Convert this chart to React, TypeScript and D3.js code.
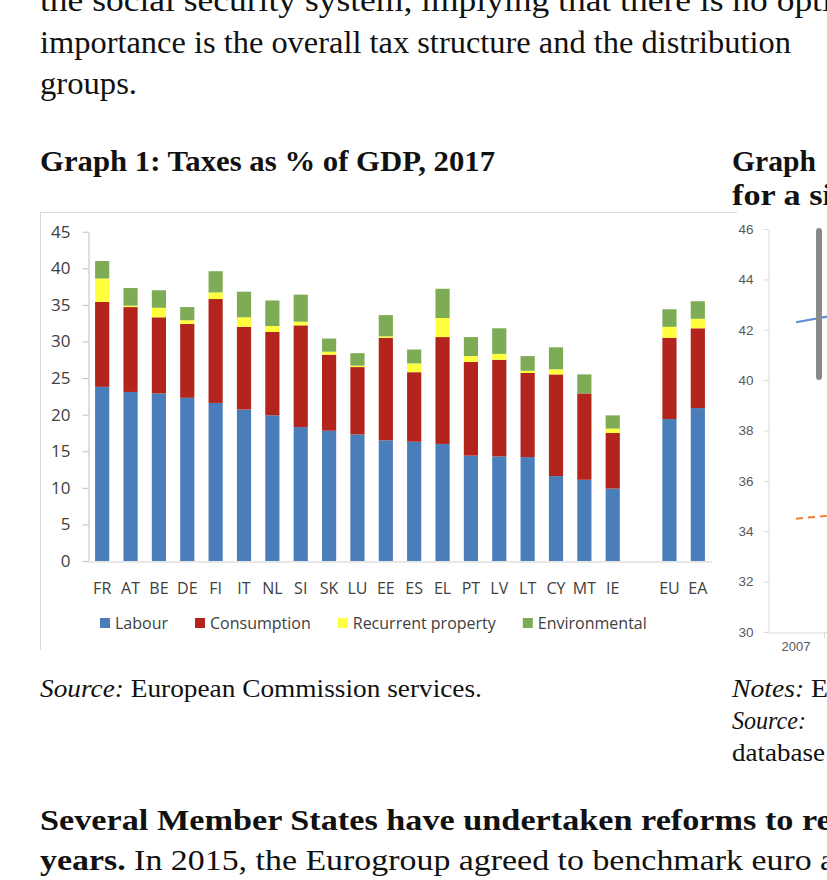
import React, { useRef, useEffect } from "react";
import * as d3 from "d3";

// Graph 1: taxes as % of GDP, 2017 (stacked)
const countries = ["FR", "AT", "BE", "DE", "FI", "IT", "NL", "SI", "SK", "LU", "EE", "ES", "EL", "PT", "LV", "LT", "CY", "MT", "IE", "EU", "EA"];
const labour = [23.8, 23.1, 22.9, 22.3, 21.6, 20.7, 19.9, 18.3, 17.8, 17.3, 16.5, 16.3, 16.0, 14.4, 14.3, 14.2, 11.6, 11.1, 9.9, 19.4, 20.9];
const consumption = [11.6, 11.6, 10.4, 10.1, 14.2, 11.3, 11.4, 13.9, 10.4, 9.2, 14.0, 9.5, 14.6, 12.8, 13.2, 11.5, 13.9, 11.8, 7.6, 11.1, 10.9];
const property = [3.2, 0.2, 1.3, 0.5, 0.9, 1.3, 0.8, 0.5, 0.4, 0.2, 0.2, 1.2, 2.6, 0.8, 0.8, 0.3, 0.7, 0.0, 0.6, 1.5, 1.3];
const environmental = [2.4, 2.4, 2.4, 1.8, 2.9, 3.5, 3.5, 3.7, 1.8, 1.7, 2.9, 1.9, 4.0, 2.6, 3.5, 2.0, 3.0, 2.6, 1.8, 2.4, 2.4];
const seriesNames = ["Labour", "Consumption", "Recurrent property", "Environmental"];
const seriesColors = ["#4A7EBB", "#B2241C", "#FFFF3D", "#7EAB55"];
const yTicks = [0, 5, 10, 15, 20, 25, 30, 35, 40, 45];

// Graph 2 (only its left edge is visible)
const g2Years = ["2007", "2008"];
const g2Blue = [42.3, 42.7];
const g2Orange = [34.5, 34.7];
const g2Ticks = [30, 32, 34, 36, 38, 40, 42, 44, 46];

type Part = { t: string; b?: boolean; i?: boolean };
type Line = { x: number; y: number; w: number; size: number; parts: Part[] };

const pageLines: Line[] = [
  { x: 40, y: 11, w: 792, size: 31, parts: [{ t: "the social security system, implying that there is no opti" }] },
  { x: 40, y: 53, w: 751, size: 31, parts: [{ t: "importance is the overall tax structure and the distribution" }] },
  { x: 40, y: 94, w: 97, size: 31, parts: [{ t: "groups." }] },
  { x: 40, y: 171, w: 455, size: 30, parts: [{ t: "Graph 1: Taxes as % of GDP, 2017", b: true }] },
  { x: 732, y: 171, w: 84, size: 30, parts: [{ t: "Graph", b: true }] },
  { x: 732, y: 205, w: 100, size: 30, parts: [{ t: "for a si", b: true }] },
  { x: 40, y: 697, w: 442, size: 26, parts: [{ t: "Source:", i: true }, { t: " European Commission services." }] },
  { x: 732, y: 697, w: 96, size: 26, parts: [{ t: "Notes:", i: true }, { t: " E" }] },
  { x: 732, y: 729, w: 74, size: 26, parts: [{ t: "Source:", i: true }] },
  { x: 732, y: 761, w: 93, size: 26, parts: [{ t: "database" }] },
  { x: 40, y: 830, w: 792, size: 30, parts: [{ t: "Several Member States have undertaken reforms to re", b: true }] },
  { x: 40, y: 870, w: 795, size: 30, parts: [{ t: "years.", b: true }, { t: " In 2015, the Eurogroup agreed to benchmark euro a" }] },
];

export default function App() {
  const ref = useRef<SVGSVGElement>(null);

  useEffect(() => {
    if (!ref.current) return;
    document.body.style.margin = "0";
    document.body.style.overflow = "hidden";
    const svg = d3.select(ref.current);
    svg.selectAll("*").remove();

    // page text, stretched to the widths seen in the scan
    const texts = pageLines.map(l => {
      const t = svg.append("text")
        .attr("font-family", "'Liberation Serif', 'Times New Roman', serif")
        .attr("font-size", l.size)
        .attr("fill", "#111");
      l.parts.forEach(p => {
        t.append("tspan")
          .attr("font-weight", p.b ? "bold" : "normal")
          .attr("font-style", p.i ? "italic" : "normal")
          .text(p.t);
      });
      return { t, l };
    });
    const fit = () => {
      texts.forEach(({ t, l }) => {
        const w = (t.node() as SVGTextElement).getComputedTextLength() || l.w;
        t.attr("transform", `translate(${l.x},${l.y}) scale(${l.w / w},1)`);
      });
    };
    fit();
    (document as any).fonts?.ready.then(fit);

    // ---- Graph 1 ----
    const sans = "'Open Sans', 'Noto Sans', sans-serif";
    const frame = svg.append("g").attr("stroke", "#d9d9d9").attr("stroke-width", 1);
    frame.append("line").attr("x1", 40).attr("x2", 737).attr("y1", 212.5).attr("y2", 212.5);
    frame.append("line").attr("x1", 40.5).attr("x2", 40.5).attr("y1", 212).attr("y2", 650);

    const domain = [...countries.slice(0, 19), "gap", ...countries.slice(19)];
    const x = d3.scaleBand<string>().domain(domain).range([88, 712]).paddingInner(0.5).paddingOuter(0.25);
    const y = d3.scaleLinear().domain([0, 45]).range([561, 231.7]);

    const rows = countries.map((c, i) => ({
      c,
      Labour: labour[i],
      Consumption: consumption[i],
      "Recurrent property": property[i],
      Environmental: environmental[i],
    }));
    const stacked = d3.stack<any>().keys(seriesNames)(rows);

    svg.append("g")
      .selectAll("g")
      .data(stacked)
      .join("g")
      .attr("fill", (_, i) => seriesColors[i])
      .selectAll("rect")
      .data(d => d)
      .join("rect")
      .attr("x", d => x(d.data.c)!)
      .attr("width", x.bandwidth())
      .attr("y", d => y(d[1]))
      .attr("height", d => Math.max(0, y(d[0]) - y(d[1])));

    const yAxis = svg.append("g")
      .attr("transform", "translate(88.5,0)")
      .call(d3.axisLeft(y).tickValues(yTicks).tickSize(6).tickSizeOuter(0).tickPadding(12));
    yAxis.select(".domain").attr("stroke", "#bfbfbf");
    yAxis.selectAll(".tick line").attr("stroke", "#bfbfbf");
    yAxis.selectAll(".tick text").attr("fill", "#404040").attr("font-size", 17).attr("font-family", sans);

    const xAxis = svg.append("g")
      .attr("transform", "translate(0,561.5)")
      .call(d3.axisBottom(x).tickSize(0).tickSizeOuter(0).tickPadding(21).tickFormat(d => (d === "gap" ? "" : d)));
    xAxis.select(".domain").attr("stroke", "#d0d0d0");
    xAxis.selectAll(".tick text").attr("fill", "#404040").attr("font-size", 16).attr("font-family", sans);

    // legend
    const legend = svg.append("g").attr("font-family", sans).attr("font-size", 16).attr("fill", "#404040");
    let lx = 100;
    seriesNames.forEach((name, i) => {
      legend.append("rect").attr("x", lx).attr("y", 618).attr("width", 10).attr("height", 10).attr("fill", seriesColors[i]);
      const t = legend.append("text").attr("x", lx + 15).attr("y", 629).text(name);
      const w = (t.node() as SVGTextElement).getComputedTextLength();
      lx = lx + 15 + w + 27;
    });

    // ---- Graph 2 (cut off at the right edge) ----
    const arial = "'Liberation Sans', Arial, sans-serif";
    const y2 = d3.scaleLinear().domain([30, 46]).range([632, 229]);
    const x2 = d3.scaleBand<string>().domain(g2Years).range([768, 880]);

    const y2Axis = svg.append("g")
      .attr("transform", "translate(768.5,0)")
      .call(d3.axisLeft(y2).tickValues(g2Ticks).tickSize(5).tickSizeOuter(0).tickPadding(10));
    y2Axis.select(".domain").attr("stroke", "#d9d9d9");
    y2Axis.selectAll(".tick line").attr("stroke", "#d9d9d9");
    y2Axis.selectAll(".tick text").attr("fill", "#595959").attr("font-size", 13.5).attr("font-family", arial);

    const x2Axis = svg.append("g")
      .attr("transform", "translate(0,632.5)")
      .call(d3.axisBottom(x2).tickSize(0).tickSizeOuter(0).tickPadding(9));
    x2Axis.select(".domain").attr("stroke", "#d9d9d9");
    x2Axis.selectAll(".tick text").attr("fill", "#595959").attr("font-size", 13).attr("font-family", arial);
    svg.append("g")
      .selectAll("line")
      .data(g2Years)
      .join("line")
      .attr("x1", d => x2(d)! + x2.bandwidth() + 0.5)
      .attr("x2", d => x2(d)! + x2.bandwidth() + 0.5)
      .attr("y1", 632)
      .attr("y2", 638)
      .attr("stroke", "#d9d9d9");

    const line2 = d3.line<number>()
      .x((_, i) => x2(g2Years[i])! + x2.bandwidth() / 2)
      .y(v => y2(v));
    svg.append("path").datum(g2Blue).attr("fill", "none").attr("stroke", "#5B8FD0").attr("stroke-width", 2).attr("d", line2);
    svg.append("path").datum(g2Orange).attr("fill", "none").attr("stroke", "#ED7D31").attr("stroke-width", 2)
      .attr("stroke-dasharray", "7,5").attr("d", line2);

    // grey scroll indicator over the right graph
    svg.append("rect").attr("x", 816).attr("y", 228).attr("width", 6).attr("height", 152).attr("rx", 3).attr("fill", "#8a8a8a");
  }, []);

  return <svg ref={ref} width={827} height={880} style={{ display: "block", background: "#fff" }} />;
}
